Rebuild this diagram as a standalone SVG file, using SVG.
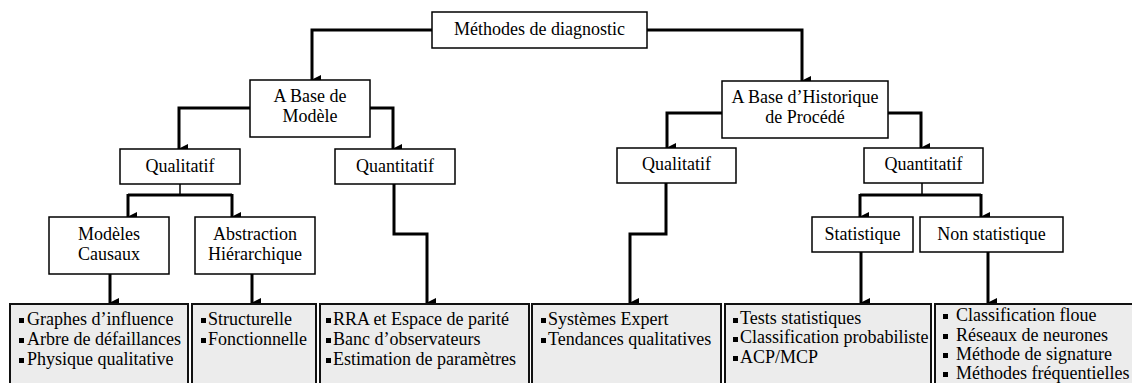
<svg xmlns="http://www.w3.org/2000/svg" width="1132" height="383" viewBox="0 0 1132 383">
<style>
.n{fill:#fff;stroke:#000;stroke-width:1.5}
.b{fill:#ececec;stroke:#111;stroke-width:2}
.c{text-anchor:middle}
.w{fill:none;stroke:#000;stroke-width:3}
.t{fill:none;stroke:#000;stroke-width:1.5}
.bl{fill:#000}
</style>
<defs>
<marker id="ah" markerWidth="10" markerHeight="10" refX="5" refY="9" orient="auto-start-reverse" markerUnits="userSpaceOnUse" viewBox="0 0 10 10">
<path d="M0,0 L10,0 L5,10 Z" fill="#000"/>
</marker>
</defs>
<rect width="1132" height="383" fill="#fff"/>
<g id="connectors">
<path class="w" d="M432,30 H312 V80" marker-end="url(#ah)"/>
<path class="w" d="M647,30 H802 V81" marker-end="url(#ah)"/>
<path class="w" d="M250,108 H179 V149" marker-end="url(#ah)"/>
<path class="w" d="M370,108 H393 V149" marker-end="url(#ah)"/>
<path class="w" d="M722,113 H667 V148" marker-end="url(#ah)"/>
<path class="w" d="M888,113 H921 V148" marker-end="url(#ah)"/>
<path class="t" d="M180,184 V195"/>
<path class="w" d="M128,195 H232"/>
<path class="w" d="M128,194 V217" marker-end="url(#ah)"/>
<path class="w" d="M232,194 V217" marker-end="url(#ah)"/>
<path class="t" d="M922,183 V195"/>
<path class="w" d="M860,195 H981"/>
<path class="w" d="M860,194 V217" marker-end="url(#ah)"/>
<path class="w" d="M981,194 V217" marker-end="url(#ah)"/>
<path class="w" d="M394,184 V234 H427 V303" marker-end="url(#ah)"/>
<path class="w" d="M666,183 V234 H630 V303" marker-end="url(#ah)"/>
<path class="w" d="M110,274 V303" marker-end="url(#ah)"/>
<path class="w" d="M252,274 V303" marker-end="url(#ah)"/>
<path class="w" d="M861,252 V303" marker-end="url(#ah)"/>
<path class="w" d="M988,252 V303" marker-end="url(#ah)"/>
</g>
<g font-family="Liberation Serif" font-size="18" fill="#000">
<g id="n-root"><rect class="n" x="432" y="12" width="215" height="36"/><text class="c" x="539.5" y="35">Méthodes de diagnostic</text></g>
<g id="n-modele"><rect class="n" x="250" y="80" width="120" height="57"/><text class="c" x="310" y="102">A Base de</text><text class="c" x="310" y="122">Modèle</text></g>
<g id="n-historique"><rect class="n" x="722" y="81" width="166" height="57"/><text class="c" x="805" y="103">A Base d’Historique</text><text class="c" x="805" y="123">de Procédé</text></g>
<g id="n-qual1"><rect class="n" x="120" y="149" width="120" height="35"/><text class="c" x="180" y="172">Qualitatif</text></g>
<g id="n-quant1"><rect class="n" x="335" y="149" width="120" height="35"/><text class="c" x="395" y="172">Quantitatif</text></g>
<g id="n-qual2"><rect class="n" x="617" y="148" width="119" height="35"/><text class="c" x="676.5" y="170">Qualitatif</text></g>
<g id="n-quant2"><rect class="n" x="864" y="148" width="119" height="35"/><text class="c" x="923.5" y="170">Quantitatif</text></g>
<g id="n-causaux"><rect class="n" x="49" y="217" width="120" height="57"/><text class="c" x="109" y="240">Modèles</text><text class="c" x="109" y="260">Causaux</text></g>
<g id="n-abstraction"><rect class="n" x="195" y="217" width="120" height="57"/><text class="c" x="255" y="240">Abstraction</text><text class="c" x="255" y="260">Hiérarchique</text></g>
<g id="n-stat"><rect class="n" x="812" y="217" width="101" height="35"/><text class="c" x="862.5" y="240">Statistique</text></g>
<g id="n-nonstat"><rect class="n" x="920" y="217" width="143" height="35"/><text class="c" x="991.5" y="240">Non statistique</text></g>
<g id="l1"><rect class="b" x="10" y="304" width="178" height="90"/>
<rect class="bl" x="19" y="318" width="5" height="5"/><rect class="bl" x="19" y="338" width="5" height="5"/><rect class="bl" x="19" y="358" width="5" height="5"/>
<text x="27" y="325">Graphes d’influence</text><text x="27" y="345">Arbre de défaillances</text><text x="27" y="365">Physique qualitative</text></g>
<g id="l2"><rect class="b" x="192" y="304" width="124" height="90"/>
<rect class="bl" x="201" y="318" width="5" height="5"/><rect class="bl" x="201" y="338" width="5" height="5"/>
<text x="208" y="325">Structurelle</text><text x="208" y="345">Fonctionnelle</text></g>
<g id="l3"><rect class="b" x="320" y="304" width="209" height="90"/>
<rect class="bl" x="326" y="318" width="5" height="5"/><rect class="bl" x="326" y="338" width="5" height="5"/><rect class="bl" x="326" y="358" width="5" height="5"/>
<text x="333" y="325">RRA et Espace de parité</text><text x="333" y="345">Banc d’observateurs</text><text x="333" y="365">Estimation de paramètres</text></g>
<g id="l4"><rect class="b" x="532" y="304" width="189" height="90"/>
<rect class="bl" x="541" y="318" width="5" height="5"/><rect class="bl" x="541" y="338" width="5" height="5"/>
<text x="548" y="325">Systèmes Expert</text><text x="548" y="345">Tendances qualitatives</text></g>
<g id="l5"><rect class="b" x="725" y="304" width="206" height="90"/>
<rect class="bl" x="733" y="318" width="5" height="5"/><rect class="bl" x="733" y="337" width="5" height="5"/><rect class="bl" x="733" y="356" width="5" height="5"/>
<text x="740" y="324">Tests statistiques</text><text x="740" y="343">Classification probabiliste</text><text x="740" y="363">ACP/MCP</text></g>
<g id="l6"><rect class="b" x="935" y="304" width="210" height="90"/>
<rect class="bl" x="943" y="314" width="5" height="5"/><rect class="bl" x="943" y="334" width="5" height="5"/><rect class="bl" x="943" y="353" width="5" height="5"/><rect class="bl" x="943" y="372" width="5" height="5"/>
<text x="956" y="321">Classification floue</text><text x="956" y="341">Réseaux de neurones</text><text x="956" y="360">Méthode de signature</text><text x="956" y="379">Méthodes fréquentielles</text></g>
</g>
</svg>
